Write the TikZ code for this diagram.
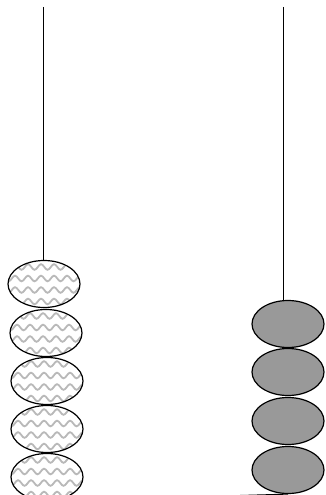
\documentclass[tikz,border=0pt]{standalone}
\usepackage{tikz}
\usetikzlibrary{shapes.geometric,decorations.pathmorphing}

\begin{document}
\begin{tikzpicture}[x=1pt,y=-1pt,
	bead/.style={ellipse, draw, line width=1.2pt, minimum width=72pt, minimum height=47pt, inner sep=0pt},
	wavybead/.style={bead, fill=white, path picture={
		\foreach \r in {-29,-17.5,...,30}
			\draw[gray!55, line width=1.8pt, decorate, decoration={snake, segment length=13pt, amplitude=2.8pt}]
				([yshift=\r pt]path picture bounding box.west) ++(-10,0) -- ++(100,0);}},
	graybead/.style={bead, fill=black!40},
	thread/.style={line width=1pt}]
	\useasboundingbox (0,0) rectangle (325,495);
	\clip (0,0) rectangle (325,495);
	% left string with five wavy beads
	\coordinate (ltop) at (43,7);
	\node[wavybead] (l1) at (44,284) {};
	\node[wavybead] (l2) at (46,333) {};
	\node[wavybead] (l3) at (47,381) {};
	\node[wavybead] (l4) at (47,429) {};
	\node[wavybead] (l5) at (47,477) {};
	\draw[thread] (ltop) -- (ltop |- l1.north);
	% right string with four gray beads
	\coordinate (rtop) at (283,7);
	\node[graybead] (r1) at (288,324) {};
	\node[graybead] (r2) at (288,372) {};
	\node[graybead] (r3) at (288,421) {};
	\node[graybead] (r4) at (288,470) {};
	\draw[thread] (rtop) -- (rtop |- r1.north);
	% bottom link
	\draw[thread] (l5.south) -- (r4.south);
\end{tikzpicture}
\end{document}
